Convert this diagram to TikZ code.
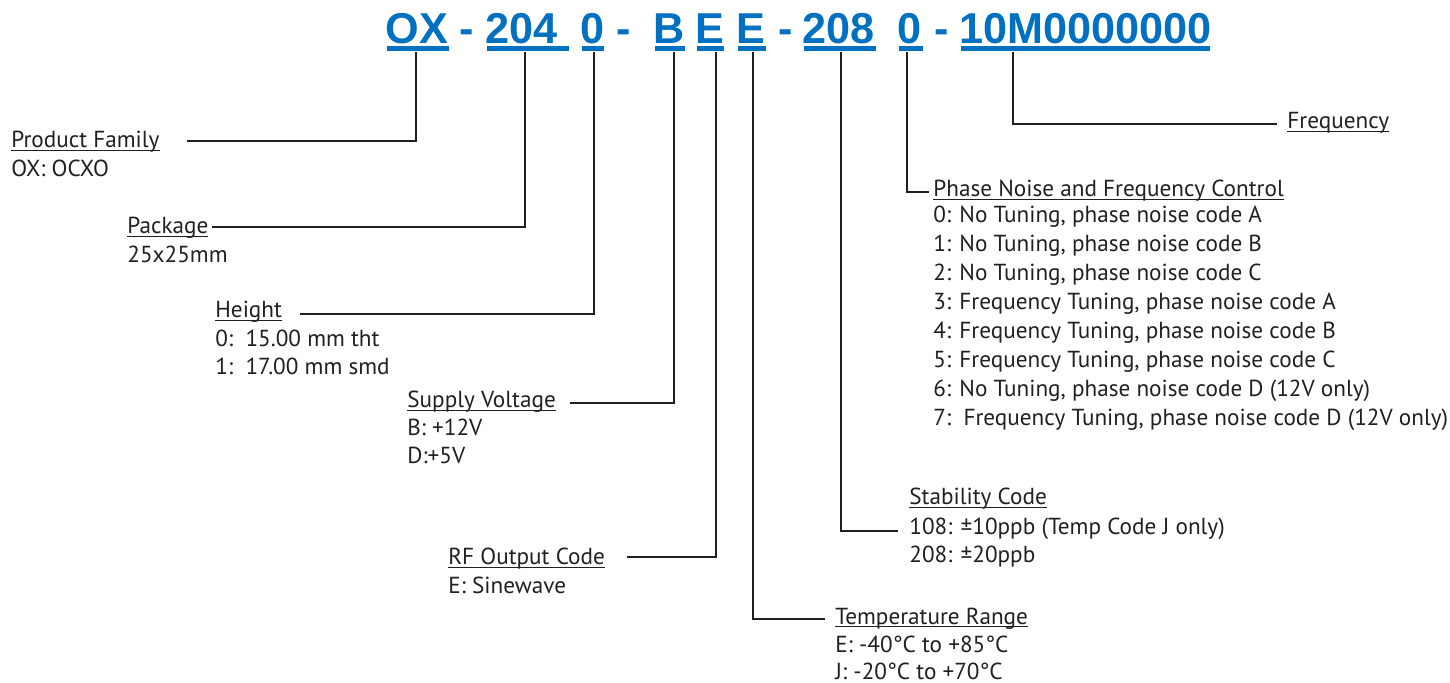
\documentclass[tikz,border=0pt]{standalone}
\usepackage{fontspec}
\setmainfont{PT Sans}
\newfontfamily\hdrfont{Liberation Sans}
\definecolor{codeblue}{RGB}{0,112,192}
\definecolor{ink}{RGB}{35,31,32}
\newcommand\ulx[1]{\setbox0\hbox{#1}\rlap{\rule[-1.4pt]{\wd0}{0.6pt}}\box0}
\tikzset{
  hdr/.style={anchor=base west, inner sep=0pt, text=codeblue, font=\hdrfont\bfseries\fontsize{21.6pt}{24pt}\selectfont},
  hul/.style={draw=codeblue, line width=2.3pt},
  lbl/.style={anchor=base west, inner sep=0pt, text=ink, font=\fontsize{11.6pt}{13pt}\selectfont},
  conn/.style={draw=ink, line width=1.2pt},
}
\begin{document}
\begin{tikzpicture}[x=0.5pt,y=-0.5pt]
\useasboundingbox (0,0) rectangle (1450,683);
% ---------- header code ----------
\node[hdr] (sOX)  at (385,44) {OX};
\node[hdr] (h1)   at (459.5,44) {-};
\node[hdr] (s204) at (485,44) {204};
\node[hdr] (s0a)  at (580,44) {0};
\node[hdr] (h2)   at (616,44) {-};
\node[hdr] (sB)   at (653,44) {B};
\node[hdr] (sE1)  at (695,44) {E};
\node[hdr] (sE2)  at (736,44) {E};
\node[hdr] (h3)   at (778,44) {-};
\node[hdr] (s208) at (802,44) {208};
\node[hdr] (s0b)  at (897,44) {0};
\node[hdr] (h4)   at (934.5,44) {-};
\node[hdr] (sF)   at (959,44) {10M0000000};
\draw[hul] (387,48.5) -- (449,48.5);
\draw[hul] (487,48.5) -- (569,48.5);
\draw[hul] (582,48.5) -- (604,48.5);
\draw[hul] (655,48.5) -- (685,48.5);
\draw[hul] (697,48.5) -- (724,48.5);
\draw[hul] (738,48.5) -- (766,48.5);
\draw[hul] (804,48.5) -- (876,48.5);
\draw[hul] (899,48.5) -- (923,48.5);
\draw[hul] (961,48.5) -- (1210,48.5);
% ---------- labels ----------
\node[lbl] (pf)  at (11,148) {\ulx{Product Family}};
\node[lbl] (pf1) at (11,177) {OX: OCXO};
\node[lbl] (pk)  at (127,234) {\ulx{Package}};
\node[lbl] (pk1) at (127,263) {25x25mm};
\node[lbl] (ht)  at (215,318) {\ulx{Height}};
\node[lbl] (ht1) at (215,347) {0:\ \ 15.00 mm tht};
\node[lbl] (ht2) at (215,375) {1:\ \ 17.00 mm smd};
\node[lbl] (sv)  at (407,408) {\ulx{Supply Voltage}};
\node[lbl] (sv1) at (407,436) {B: +12V};
\node[lbl] (sv2) at (407,464) {D:+5V};
\node[lbl] (rf)  at (448,565) {\ulx{RF Output Code}};
\node[lbl] (rf1) at (448,593) {E: Sinewave};
\node[lbl] (tr)  at (835,624) {\ulx{Temperature Range}};
\node[lbl] (tr1) at (835,652) {E: -40°C to +85°C};
\node[lbl] (tr2) at (835,679) {J: -20°C to +70°C};
\node[lbl] (st)  at (909,505) {\ulx{Stability Code}};
\node[lbl] (st1) at (909,534) {108: ±10ppb (Temp Code J only)};
\node[lbl] (st2) at (909,562) {208: ±20ppb};
\node[lbl] (pn)  at (933,197) {\ulx{Phase Noise and Frequency Control}};
\node[lbl] (pn0) at (933,223) {0: No Tuning, phase noise code A};
\node[lbl] (pn1) at (933,252) {1: No Tuning, phase noise code B};
\node[lbl] (pn2) at (933,281) {2: No Tuning, phase noise code C};
\node[lbl] (pn3) at (933,310) {3: Frequency Tuning, phase noise code A};
\node[lbl] (pn4) at (933,339) {4: Frequency Tuning, phase noise code B};
\node[lbl] (pn5) at (933,368) {5: Frequency Tuning, phase noise code C};
\node[lbl] (pn6) at (933,397) {6: No Tuning, phase noise code D (12V only)};
\node[lbl] (pn7) at (933,426) {7:\ \ Frequency Tuning, phase noise code D (12V only)};
\node[lbl] (fq)  at (1287,129) {\ulx{Frequency}};
% ---------- connector ends ----------
\coordinate (tOX)  at (416,52);
\coordinate (t204) at (525,52);
\coordinate (t0a)  at (594,52);
\coordinate (tB)   at (674,52);
\coordinate (tE1)  at (716,52);
\coordinate (tE2)  at (753,52);
\coordinate (t208) at (841,52);
\coordinate (t0b)  at (907,52);
\coordinate (tF)   at (1013,52);
\coordinate (ePF)  at (187,141);
\coordinate (ePK)  at (212,227);
\coordinate (eHT)  at (300,314);
\coordinate (eSV)  at (570,403);
\coordinate (eRF)  at (627,557);
\coordinate (eTR)  at (825,619);
\coordinate (eST)  at (898,531);
\coordinate (ePN)  at (929,192);
\coordinate (eFQ)  at (1277,124);
% ---------- connectors ----------
\draw[conn] (tOX)  |- (ePF);
\draw[conn] (t204) |- (ePK);
\draw[conn] (t0a)  |- (eHT);
\draw[conn] (tB)   |- (eSV);
\draw[conn] (tE1)  |- (eRF);
\draw[conn] (tE2)  |- (eTR);
\draw[conn] (t208) |- (eST);
\draw[conn] (t0b)  |- (ePN);
\draw[conn] (tF)   |- (eFQ);
\end{tikzpicture}
\end{document}
